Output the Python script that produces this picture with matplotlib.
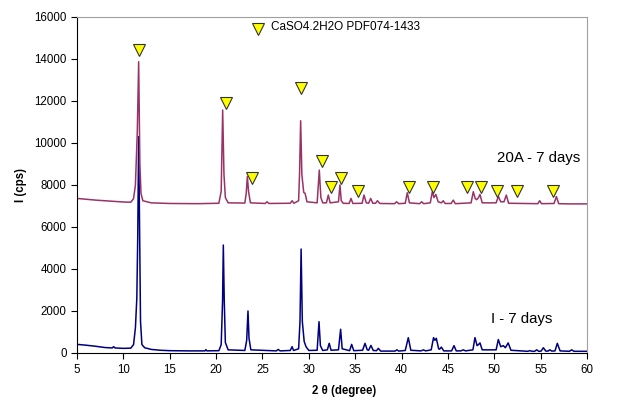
import matplotlib
matplotlib.use("Agg")
import matplotlib.pyplot as plt

plt.rcParams['font.family'] = ['Liberation Sans', 'DejaVu Sans']

# I - 7 days (blue)
blue_x = [5.0, 6.0, 7.0, 8.0, 8.8, 8.95, 9.1, 10.0, 10.8, 11.1, 11.3, 11.45, 11.55, 11.65,
          11.75, 11.85, 12.0, 12.3, 13.0, 14.0, 15.0, 17.0, 18.8, 18.9, 19.0, 20.3,
          20.55, 20.7, 20.78, 20.88, 21.0, 21.3, 23.1, 23.3, 23.44, 23.55, 23.75,
          26.5, 26.7, 26.9, 28.0, 28.2, 28.35, 28.9, 29.05, 29.17, 29.3, 29.5, 29.7,
          30.0, 30.9, 31.1, 31.25, 31.5, 32.0, 32.2, 32.4, 33.2, 33.43, 33.6, 34.4,
          34.62, 34.85, 35.8, 36.06, 36.3, 36.45, 36.7, 36.95, 37.3, 37.5, 37.75,
          39.3, 39.5, 39.7, 40.4, 40.73, 41.0, 42.1, 42.35, 42.6, 43.2, 43.45, 43.6,
          43.75, 44.0, 44.1, 44.3, 44.55, 45.4, 45.66, 45.9, 46.4, 46.66, 46.9, 47.7,
          47.92, 48.15, 48.3, 48.46, 48.7, 50.2, 50.44, 50.7, 50.98, 51.2, 51.5, 51.8,
          53.6, 53.85, 54.1, 54.35, 54.57, 54.8, 55.05, 55.3, 55.55, 55.8, 56.0, 56.2,
          56.55, 56.8, 57.1, 58.1, 58.35, 58.6, 59.0, 60.0]
blue_y = [410, 370, 320, 260, 240, 300, 240, 220, 230, 400, 1200, 2600, 5500, 10300,
          6000, 1500, 400, 250, 170, 130, 110, 100, 100, 160, 100, 110,
          400, 2500, 5140, 2500, 500, 150, 120, 600, 2000, 700, 150,
          100, 170, 100, 120, 300, 120, 200, 1500, 4950, 1500, 550, 300,
          120, 130, 1490, 350, 120, 150, 460, 130, 150, 1130, 200, 110,
          410, 110, 130, 460, 150, 130, 360, 120, 110, 220, 90,
          90, 150, 90, 120, 730, 130, 100, 150, 100, 150, 730, 600,
          700, 200, 180, 280, 100, 100, 350, 100, 100, 150, 100, 150,
          730, 350, 400, 480, 150, 150, 640, 300, 350, 250, 480, 130,
          80, 110, 80, 80, 150, 80, 90, 250, 90, 90, 150, 90,
          100, 460, 100, 80, 150, 80, 80, 80]

# 20A - 7 days (purple)
red_x = [5.0, 6.0, 7.0, 8.0, 9.0, 10.0, 10.8, 11.1, 11.3, 11.5, 11.65, 11.78, 11.9,
         12.1, 13.0, 15.0, 18.0, 20.3, 20.55, 20.71, 20.85, 21.0, 21.3, 23.1, 23.25,
         23.37, 23.5, 23.7, 25.3, 25.5, 25.7, 28.0, 28.2, 28.4, 28.9, 29.0, 29.12,
         29.25, 29.45, 29.6, 29.8, 30.9, 31.13, 31.3, 31.5, 31.9, 32.1, 32.3, 33.2,
         33.36, 33.5, 33.7, 34.35, 34.55, 34.75, 35.75, 35.95, 36.2, 36.45, 36.67,
         36.9, 37.2, 37.4, 37.65, 39.25, 39.47, 39.7, 40.4, 40.62, 40.85, 41.95,
         42.17, 42.4, 43.1, 43.32, 43.5, 43.7, 43.95, 44.3, 44.5, 44.7, 45.35, 45.58,
         45.8, 47.5, 47.74, 47.95, 48.1, 48.3, 48.46, 48.7, 50.2, 50.44, 50.7, 51.05,
         51.3, 51.55, 54.7, 54.9, 55.1, 56.45, 56.7, 56.95, 58.0, 60.0]
red_y = [7360, 7320, 7280, 7250, 7220, 7190, 7180, 7350, 8000, 10500, 13870, 9000, 7600,
         7250, 7150, 7120, 7110, 7130, 7700, 11570, 8500, 7400, 7150, 7140, 7600,
         8400, 7700, 7150, 7120, 7200, 7120, 7130, 7250, 7130, 7250, 8500, 11060,
         8500, 7650, 7600, 7200, 7150, 8710, 7400, 7150, 7150, 7520, 7150, 7200,
         8000, 7250, 7130, 7120, 7360, 7120, 7130, 7520, 7150, 7130, 7360,
         7130, 7130, 7250, 7120, 7110, 7200, 7110, 7130, 7630, 7150, 7110,
         7200, 7110, 7150, 7680, 7400, 7550, 7200, 7150, 7250, 7120, 7120, 7280,
         7110, 7150, 7680, 7350, 7300, 7400, 7550, 7150, 7150, 7450, 7200, 7200,
         7520, 7130, 7110, 7250, 7110, 7120, 7450, 7110, 7100, 7100]

# CaSO4.2H2O reference peak markers
mark_x = [11.69, 21.07, 23.87, 29.16, 31.39, 32.39, 33.44, 35.34, 40.80, 43.39,
          47.02, 48.57, 50.33, 52.48, 56.36]
mark_y = [14420, 11900, 8330, 12610, 9160, 7920, 8350, 7700, 7920, 7920,
          7920, 7920, 7700, 7700, 7700]

fig = plt.figure(figsize=(6.22, 3.98), dpi=100)
ax = fig.add_axes([0.1238, 0.1131, 0.8199, 0.8442])

ax.plot(blue_x, blue_y, color='#000080', lw=1.1)
ax.plot(red_x, red_y, color='#993366', lw=1.1)
ax.plot(mark_x, mark_y, linestyle='none', marker='v', ms=9,
        markerfacecolor='#ffff00', markeredgecolor='#333333', markeredgewidth=0.8)

# legend entry
ax.plot([24.52], [15450], linestyle='none', marker='v', ms=9,
        markerfacecolor='#ffff00', markeredgecolor='#333333', markeredgewidth=0.8)
ax.text(25.92, 15500, "CaSO4.2H2O PDF074-1433", fontsize=8.5, va='center', ha='left')

ax.text(54.77, 9280, "20A - 7 days", fontsize=10.8, ha='center', va='center')
ax.text(52.93, 1620, "I - 7 days", fontsize=10.8, ha='center', va='center')

ax.set_xlim(5, 60)
ax.set_ylim(0, 16000)
ax.set_xticks(range(5, 61, 5))
ax.set_yticks(range(0, 16001, 2000))
ax.tick_params(axis='both', labelsize=8.3, direction='out', length=4, width=0.8)
ax.tick_params(axis='x', pad=4)

ax.spines['top'].set_color('#a0a0a0')
ax.spines['right'].set_color('#a0a0a0')
ax.spines['left'].set_color('black')
ax.spines['bottom'].set_color('black')

ax.set_xlabel("2 θ (degree)", fontsize=8.3, fontweight='bold')
ax.xaxis.set_label_coords(0.5245, -0.096)
ax.set_ylabel("I (cps)", fontsize=8.3, fontweight='bold', labelpad=5)

fig.savefig("out.png", dpi=100)
